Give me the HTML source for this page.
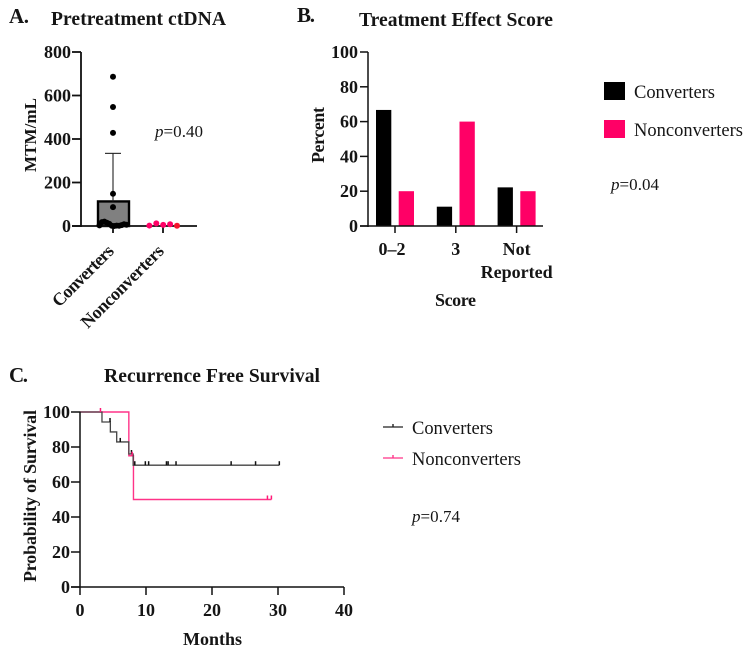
<!DOCTYPE html>
<html lang="en">
<head>
<meta charset="utf-8">
<title>Converters vs Nonconverters</title>
<style>
html,body{margin:0;padding:0;background:#fff;width:753px;height:652px;overflow:hidden}
svg{display:block;filter:blur(0.3px)}
text{font-family:"Liberation Serif",serif;fill:#151515}
.tick{font-weight:bold;font-size:18px}
.title{font-weight:bold;font-size:19.6px}
.panel{font-weight:bold;font-size:21px}
.lab{font-weight:bold;font-size:18px}
.reg{font-size:18.5px}
.pv{font-size:17px}
</style>
</head>
<body>
<svg id="fig" width="753" height="652" viewBox="0 0 753 652" xmlns="http://www.w3.org/2000/svg">
  <text class="panel" x="9" y="23" textLength="20">A.</text>
  <text class="title" x="51" y="25" textLength="175">Pretreatment ctDNA</text>
  <text class="lab" style="font-size:17px" transform="translate(36,172) rotate(-90)" textLength="74">MTM/mL</text>
  <text class="lab" transform="translate(115,252) rotate(-45)" text-anchor="end" textLength="79">Converters</text>
  <text class="lab" transform="translate(165,252) rotate(-45)" text-anchor="end" textLength="109">Nonconverters</text>
  <text class="pv" x="155" y="137" textLength="48"><tspan font-style="italic">p</tspan>=0.40</text>

  <text class="panel" x="297" y="22" textLength="18">B.</text>
  <text class="title" x="359" y="26" textLength="194">Treatment Effect Score</text>
  <text class="lab" transform="translate(324,163) rotate(-90)" textLength="56">Percent</text>
  <text class="lab" x="435" y="306" textLength="41">Score</text>
  <rect x="604" y="82" width="21" height="18" fill="#000"/>
  <text class="reg" x="634" y="98" textLength="81">Converters</text>
  <rect x="604" y="120" width="21" height="18" fill="#ff0066"/>
  <text class="reg" x="634" y="136" textLength="109">Nonconverters</text>
  <text class="pv" x="611" y="190" textLength="48"><tspan font-style="italic">p</tspan>=0.04</text>

  <text class="panel" x="9" y="382" textLength="19">C.</text>
  <text class="title" x="104" y="382" textLength="216">Recurrence Free Survival</text>
  <text class="lab" transform="translate(36,582) rotate(-90)" textLength="172">Probability of Survival</text>
  <text class="lab" x="183" y="645" textLength="59">Months</text>
  <line x1="383" x2="403" y1="427" y2="427" stroke="#222" stroke-width="1.2"/>
  <line x1="393" x2="393" y1="424" y2="427" stroke="#222" stroke-width="1.4"/>
  <text class="reg" x="412" y="434" textLength="81">Converters</text>
  <line x1="383" x2="403" y1="458" y2="458" stroke="#ff3388" stroke-width="1.2"/>
  <line x1="393" x2="393" y1="455" y2="458" stroke="#ff3388" stroke-width="1.4"/>
  <text class="reg" x="412" y="465" textLength="109">Nonconverters</text>
  <text class="pv" x="412" y="522" textLength="48"><tspan font-style="italic">p</tspan>=0.74</text>
</svg>
<script>
// Panel A data
const aTicks = [0, 200, 400, 600, 800];
const aConvertersMean = [113];
const aConvertersUpperError = [334];
const aConverters = [686, 547, 428, 148, 87, 3, 18, 20, 15, 10, 1, 0, 2, 1, 4, 8, 6];
const aNonconverters = [2, 12, 5, 8, 1];
const aNonconvertersColors = ['#ff0066', '#ff0066', '#ff0066', '#ff0066', '#f5142d'];

// Panel B data
const bTicks = [0, 20, 40, 60, 80, 100];
const bCategories = ['0\u20132', '3', 'Not|Reported'];
const bConverters = [66.7, 11.1, 22.2];
const bNonconverters = [20, 60, 20];

// Panel C data
const cYTicks = [0, 20, 40, 60, 80, 100];
const cXTicks = [0, 10, 20, 30, 40];
const cConvTimes = [0, 3.33, 4.6, 5.56, 7.4, 8.05, 30.2];
const cConvSurv = [100, 94.3, 88.6, 82.9, 76, 69.6, 69.6];
const cConvCensorT = [4.55, 6.1, 7.8, 8.3, 9.9, 10.4, 13.1, 13.35, 14.55, 22.9, 26.6, 30.2];
const cConvCensorS = [94.3, 82.9, 76, 69.6, 69.6, 69.6, 69.6, 69.6, 69.6, 69.6, 69.6, 69.6];
const cNonTimes = [0, 7.4, 8.1, 29];
const cNonSurv = [100, 75, 50, 50];
const cNonCensorT = [3.1, 7.9, 28.4, 29];
const cNonCensorS = [100, 75, 50, 50];

const svg = document.getElementById('fig');
const NS = 'http://www.w3.org/2000/svg';
function mk(tag, props) {
  const el = document.createElementNS(NS, tag);
  for (const k in props) el.setAttribute(k, props[k]);
  svg.appendChild(el);
  return el;
}
function seg(x1, y1, x2, y2, color, w) {
  return mk('line', {x1: x1, y1: y1, x2: x2, y2: y2, stroke: color, 'stroke-width': w});
}
function label(str, x, y, anchor) {
  const el = mk('text', {x: x, y: y, 'text-anchor': anchor, class: 'tick'});
  el.textContent = str;
  return el;
}

/* ---------- Panel A ---------- */
const ay = v => 226 - v * (174 / 800);
const aC1 = 113, aC2 = 163;
{
  const bar = mk('rect', {x: 98, y: ay(aConvertersMean[0]), width: 31, height: 226 - ay(aConvertersMean[0]), fill: '#808080', stroke: '#000', 'stroke-width': 2.4});
  
  

  const err = seg(aC1, ay(aConvertersMean[0]), aC1, ay(aConvertersUpperError[0]), '#222', 1.1);
  
  
  const cap = seg(aC1 - 8, ay(aConvertersUpperError[0]), aC1 + 8, ay(aConvertersUpperError[0]), '#222', 1.1);
  
  

  const yAxis = seg(81, 52, 81, 227, '#111', 1.8);
  
  
  const xAxis = seg(72, 226, 197, 226, '#111', 1.8);
  
  

  aTicks.forEach(t => {
    const tk = seg(72, ay(t), 81, ay(t), '#111', 1.8);
    
    
    const tl = label(String(t), 71, ay(t) + 6, 'end');
    
    
  });
  [aC1, aC2].forEach(x => {
    const tk = seg(x, 226, x, 233, '#111', 1.8);
    
    
  });

  const lows = aConverters.filter(v => v < 40);
  let lowIndex = 0;
  aConverters.forEach(v => {
    let cx = aC1;
    if (v < 40) {
      cx = 99.5 + lowIndex * (27 / (lows.length - 1));
      lowIndex++;
    }
    const p = mk('circle', {cx: cx, cy: ay(v), r: 3, fill: '#000'});
    
    
  });
  aNonconverters.forEach((v, i) => {
    const cx = aC2 - 13.6 + i * 6.9;
    const p = mk('circle', {cx: cx, cy: ay(v), r: 3, fill: aNonconvertersColors[i]});
    
    
  });
}

/* ---------- Panel B ---------- */
const by = v => 226 - v * (174 / 100);
const bCenter = i => 395 + i * 60.8;
{
  bCategories.forEach((c, i) => {
    const cx = bCenter(i);
    const b1 = mk('rect', {x: cx - 19, y: by(bConverters[i]), width: 15.3, height: 226 - by(bConverters[i]), fill: '#000'});
    
    
    const b2 = mk('rect', {x: cx + 3.7, y: by(bNonconverters[i]), width: 15.3, height: 226 - by(bNonconverters[i]), fill: '#ff0066'});
    
    

    const tk = seg(cx, 226, cx, 233, '#111', 1.5);
    
    

    c.split('|').forEach((line, j) => {
      const tl = label(line, i === 0 ? cx - 3 : cx, 255 + j * 23, 'middle');
      
      
    });
  });

  const yAxis = seg(368, 52, 368, 227, '#111', 1.5);
  
  
  const xAxis = seg(360, 226, 543, 226, '#111', 1.5);
  
  

  bTicks.forEach(t => {
    const tk = seg(360, by(t), 368, by(t), '#111', 1.5);
    
    
    const tl = label(String(t), 358, by(t) + 6, 'end');
    
    
  });
}

/* ---------- Panel C ---------- */
const cx = t => 80 + t * 6.6;
const cy = s => 587 - s * 1.75;
function stepPath(times, surv) {
  let d = 'M' + cx(times[0]) + ' ' + cy(surv[0]);
  for (let i = 1; i < times.length; i++) {
    d += 'H' + cx(times[i]) + 'V' + cy(surv[i]);
  }
  return d;
}
{
  const nonLine = mk('path', {d: stepPath(cNonTimes, cNonSurv), fill: 'none', stroke: '#ff3388', 'stroke-width': 1.4});
  
  
  const convLine = mk('path', {d: stepPath(cConvTimes, cConvSurv), fill: 'none', stroke: '#444', 'stroke-width': 1.3});
  
  

  cConvCensorT.forEach((t, i) => {
    const m = seg(cx(t), cy(cConvCensorS[i]) - 4, cx(t), cy(cConvCensorS[i]), '#111', 1.5);
    
    
  });
  cNonCensorT.forEach((t, i) => {
    const m = seg(cx(t), cy(cNonCensorS[i]) - 4, cx(t), cy(cNonCensorS[i]), '#ff1a77', 1.5);
    
    
  });

  const yAxis = seg(cx(0), cy(100) - 0.5, cx(0), cy(0), '#111', 1.5);
  
  
  const xAxis = seg(cx(0) - 9, cy(0), cx(40), cy(0), '#111', 1.5);
  
  

  cYTicks.forEach(t => {
    const tk = seg(cx(0) - 9, cy(t), cx(0), cy(t), '#111', 1.5);
    
    
    const tl = label(String(t), 70, cy(t) + 6, 'end');
    
    
  });
  cXTicks.forEach(t => {
    const tk = seg(cx(t), cy(0), cx(t), cy(0) + 8, '#111', 1.5);
    
    
    const tl = label(String(t), cx(t), 616, 'middle');
    
    
  });
}
</script>
</body>
</html>
